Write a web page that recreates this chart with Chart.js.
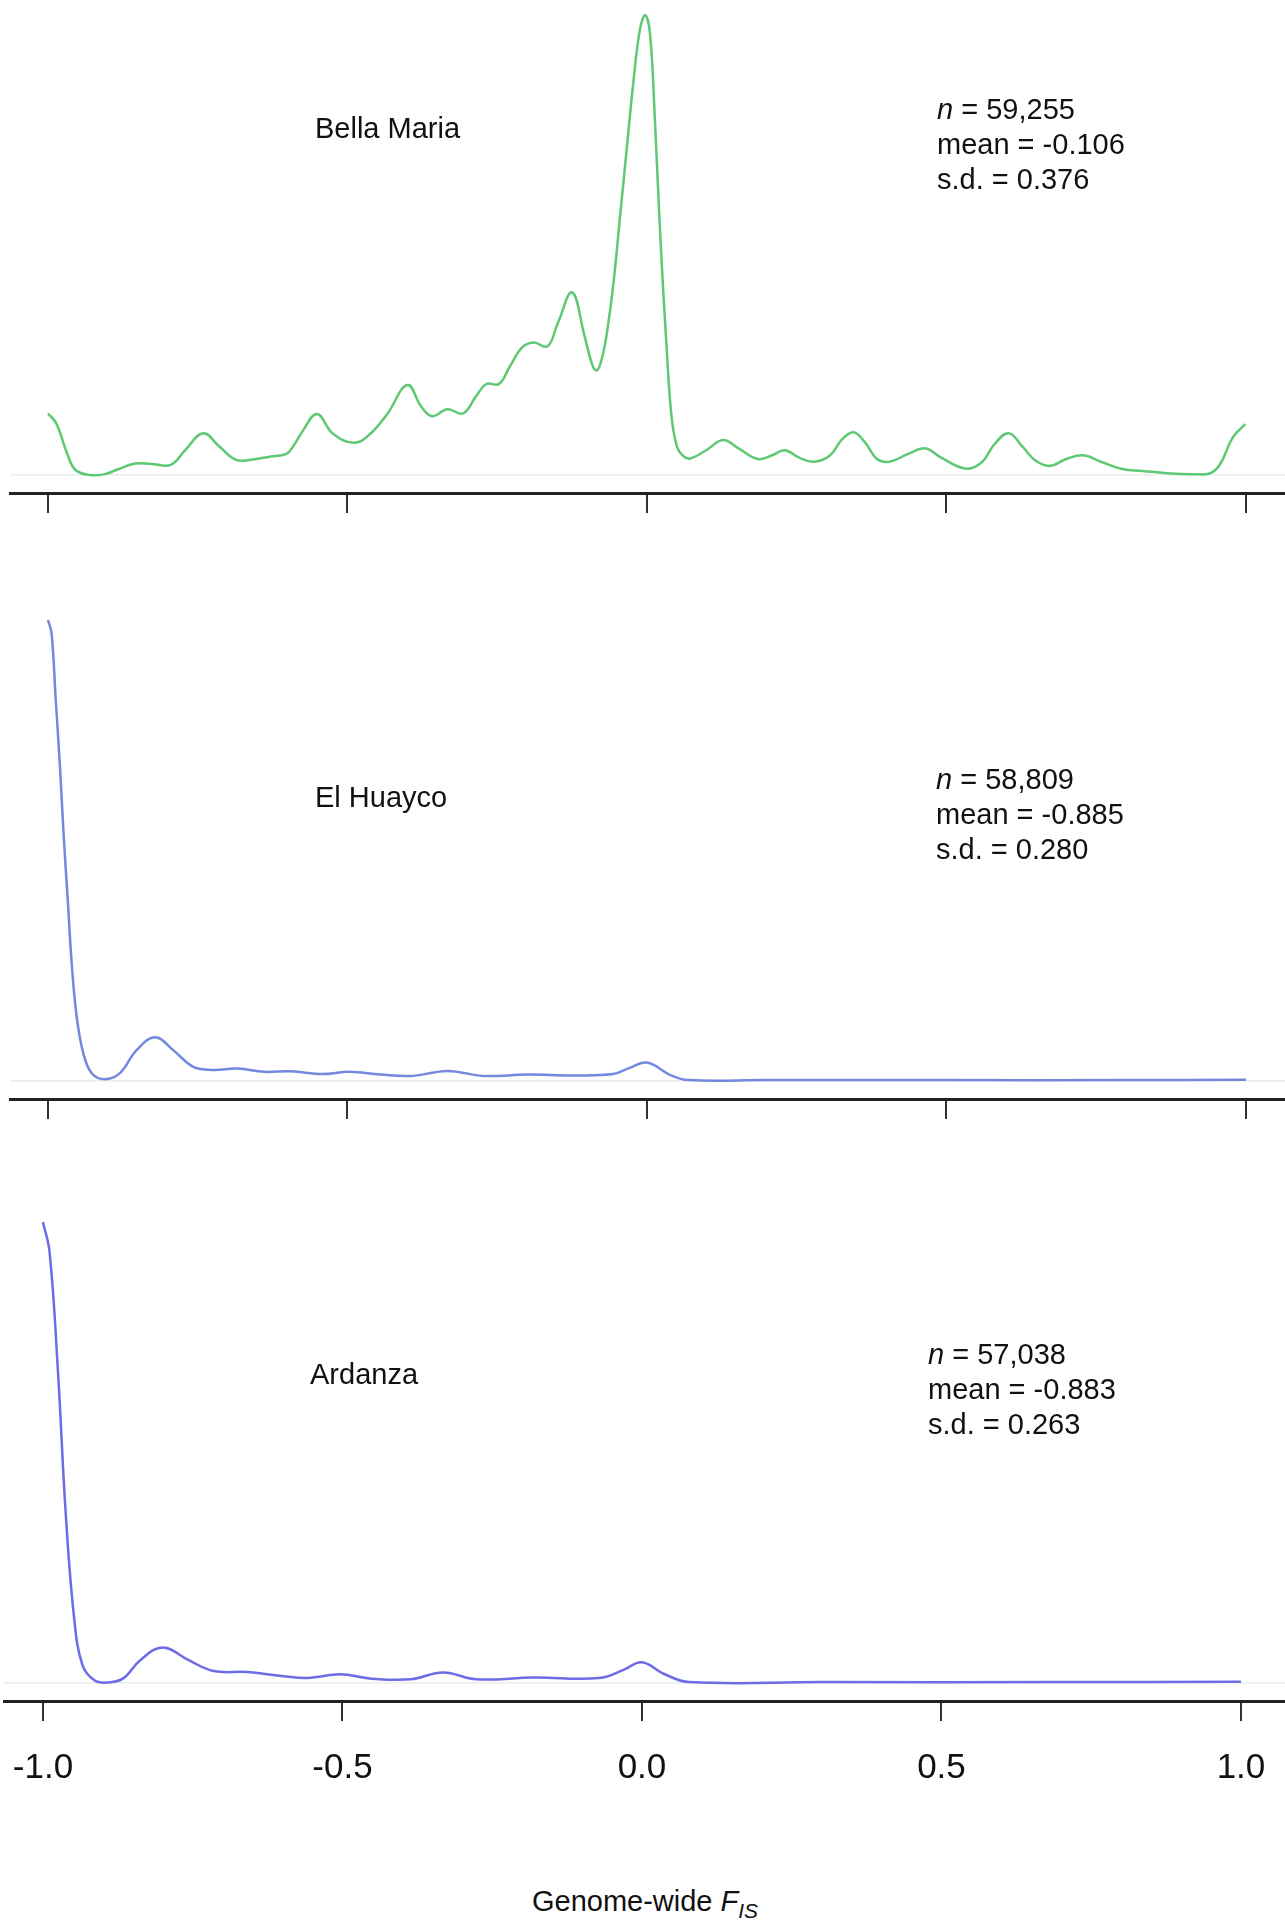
<!DOCTYPE html>
<html>
<head>
<meta charset="utf-8">
<script src="https://cdn.jsdelivr.net/npm/chart.js@4.4.1/dist/chart.umd.min.js"></script>
<style>
    body { margin: 0; width: 1285px; height: 1924px; background: #fff; position: relative; overflow: hidden;
           font-family: "Liberation Sans", Arial, Helvetica, sans-serif; color: #111; }
    canvas { position: absolute; left: 0; }
    .pop { position: absolute; font-size: 29px; line-height: 35px; white-space: nowrap; }
    .stats { position: absolute; font-size: 29px; line-height: 35px; white-space: nowrap; }
    .xtitle { position: absolute; left: 0; width: 1290px; top: 1884px; text-align: center; font-size: 29px; line-height: 34px; }
    .xtitle sub { font-size: 0.72em; vertical-align: -0.35em; }
</style>
</head>
<body>

<canvas id="bella-chart" width="1285" height="513" style="top:0px"></canvas>
<canvas id="huayco-chart" width="1285" height="599" style="top:520px"></canvas>
<canvas id="ardanza-chart" width="1285" height="661" style="top:1140px"></canvas>

<div class="pop" style="left:315px; top:111px">Bella Maria</div>
<div class="stats" style="left:937px; top:92px"><i>n</i> = 59,255<br>mean = -0.106<br>s.d. = 0.376</div>

<div class="pop" style="left:315px; top:780px">El Huayco</div>
<div class="stats" style="left:936px; top:762px"><i>n</i> = 58,809<br>mean = -0.885<br>s.d. = 0.280</div>

<div class="pop" style="left:310px; top:1357px">Ardanza</div>
<div class="stats" style="left:928px; top:1337px"><i>n</i> = 57,038<br>mean = -0.883<br>s.d. = 0.263</div>

<div class="xtitle">Genome-wide <i>F</i><sub><i>IS</i></sub></div>

<script>
// x axis ticks (genome-wide FIS)
const fisTicks = [-1.0, -0.5, 0.0, 0.5, 1.0];

// density curves, scaled so the highest point of each population is 1
const bellaX = [-1.000, -0.986, -0.968, -0.954, -0.930, -0.905, -0.884, -0.855, -0.827, -0.795,
    -0.771, -0.741, -0.714, -0.686, -0.658, -0.630, -0.602, -0.589, -0.577, -0.551,
    -0.525, -0.489, -0.461, -0.433, -0.400, -0.377, -0.359, -0.333, -0.307, -0.286,
    -0.268, -0.247, -0.229, -0.208, -0.189, -0.166, -0.149, -0.125, -0.104, -0.090,
    -0.083, -0.075, -0.067, -0.056, -0.045, -0.034, -0.023, -0.012, -0.003, 0.005,
    0.013, 0.022, 0.033, 0.041, 0.050, 0.060, 0.072, 0.100, 0.127, 0.154,
    0.185, 0.209, 0.230, 0.254, 0.278, 0.305, 0.326, 0.345, 0.364, 0.384,
    0.405, 0.436, 0.465, 0.491, 0.532, 0.559, 0.580, 0.604, 0.628, 0.649,
    0.673, 0.700, 0.728, 0.758, 0.793, 0.827, 0.868, 0.910, 0.940, 0.957,
    0.978, 0.999];
const bellaY = [0.134, 0.112, 0.047, 0.011, 0.000, 0.002, 0.012, 0.025, 0.024, 0.022,
    0.054, 0.091, 0.062, 0.033, 0.034, 0.040, 0.046, 0.066, 0.091, 0.133,
    0.091, 0.070, 0.091, 0.134, 0.196, 0.149, 0.128, 0.143, 0.134, 0.170,
    0.198, 0.198, 0.236, 0.278, 0.288, 0.280, 0.330, 0.397, 0.301, 0.235,
    0.228, 0.255, 0.308, 0.417, 0.562, 0.707, 0.851, 0.967, 1.000, 0.960,
    0.779, 0.525, 0.272, 0.127, 0.062, 0.042, 0.036, 0.055, 0.076, 0.057,
    0.035, 0.043, 0.054, 0.038, 0.029, 0.042, 0.078, 0.093, 0.071, 0.035,
    0.029, 0.046, 0.058, 0.038, 0.014, 0.028, 0.067, 0.091, 0.060, 0.031,
    0.020, 0.035, 0.043, 0.029, 0.013, 0.009, 0.004, 0.002, 0.004, 0.024,
    0.082, 0.111];

const huaycoX = [-1.000, -0.994, -0.987, -0.980, -0.974, -0.967, -0.960, -0.952, -0.941, -0.927,
    -0.905, -0.880, -0.852, -0.821, -0.791, -0.766, -0.750, -0.721, -0.683, -0.639,
    -0.594, -0.542, -0.497, -0.445, -0.393, -0.333, -0.273, -0.199, -0.124, -0.057,
    -0.030, 0.000, 0.039, 0.069, 0.200, 0.500, 0.800, 1.000];
const huaycoY = [1.000, 0.971, 0.826, 0.682, 0.537, 0.393, 0.248, 0.139, 0.060, 0.017,
    0.004, 0.017, 0.067, 0.095, 0.067, 0.038, 0.027, 0.024, 0.027, 0.020,
    0.021, 0.015, 0.020, 0.014, 0.011, 0.022, 0.011, 0.014, 0.012, 0.015,
    0.028, 0.040, 0.013, 0.002, 0.002, 0.002, 0.002, 0.003];

const ardanzaX = [-1.000, -0.989, -0.975, -0.962, -0.948, -0.934, -0.914, -0.893, -0.866, -0.838,
    -0.800, -0.756, -0.715, -0.660, -0.605, -0.558, -0.503, -0.455, -0.386, -0.332,
    -0.277, -0.181, -0.071, -0.030, 0.000, 0.038, 0.079, 0.300, 0.700, 1.000];
const ardanzaY = [1.000, 0.936, 0.678, 0.369, 0.142, 0.039, 0.006, 0.001, 0.010, 0.049,
    0.077, 0.049, 0.026, 0.024, 0.016, 0.011, 0.019, 0.010, 0.008, 0.023,
    0.008, 0.012, 0.011, 0.029, 0.045, 0.019, 0.002, 0.002, 0.002, 0.003];

let toPoints = function (xs, ys) {
    return xs.map(function (x, i) {
        return { x: x, y: ys[i] };
    });
};

let drawPanel = function (id, xs, ys, color, opts) {
    let ctx = document.getElementById(id).getContext('2d');

    return new Chart(ctx, {
        type: 'line',
        data: {
            datasets: [{
                data: toPoints(xs, ys),
                borderColor: color,
                borderWidth: 2.5,
                pointRadius: 0,
                fill: false,
                clip: false,
                tension: 0.4
            }]
        },
        options: {
            responsive: false,
            animation: false,
            events: [],
            layout: { padding: { left: opts.left, right: 0, top: 0, bottom: 0 } },
            plugins: {
                legend: { display: false },
                tooltip: { enabled: false }
            },
            scales: {
                x: {
                    type: 'linear',
                    min: opts.xMin,
                    max: opts.xMax,
                    afterBuildTicks: function (scale) {
                        scale.ticks = fisTicks.map(function (v) { return { value: v }; });
                    },
                    afterFit: function (scale) {
                        scale.height = opts.axisHeight;
                        // labels fit inside the canvas, no extra side padding
                        scale.paddingLeft = 0;
                        scale.paddingRight = 0;
                    },
                    border: { display: true, color: '#222', width: 3 },
                    grid: { drawOnChartArea: false, drawTicks: true, tickLength: 20, color: '#333', lineWidth: 2 },
                    ticks: {
                        display: opts.showLabels,
                        autoSkip: false,
                        maxRotation: 0,
                        padding: 26,
                        color: '#111',
                        font: { family: '"Liberation Sans", Arial, sans-serif', size: 35 },
                        callback: function (v) { return v.toFixed(1); }
                    }
                },
                y: {
                    min: opts.yMin,
                    max: opts.yMax,
                    afterBuildTicks: function (scale) { scale.ticks = [{ value: 0 }]; },
                    afterFit: function (scale) { scale.width = 0; },
                    border: { display: false },
                    grid: { drawTicks: false, color: '#ececec', lineWidth: 1.5 },
                    ticks: { display: false }
                }
            }
        }
    });
};

drawPanel('bella-chart', bellaX, bellaY, '#5ec872',
    { left: 10, xMin: -1.0634, xMax: 1.0651, yMin: -0.039, yMax: 1.033, axisHeight: 20, showLabels: false });
drawPanel('huayco-chart', huaycoX, huaycoY, '#7489de',
    { left: 10, xMin: -1.0634, xMax: 1.0651, yMin: -0.039, yMax: 1.217, axisHeight: 20, showLabels: false });
drawPanel('ardanza-chart', ardanzaX, ardanzaY, '#6c6ce6',
    { left: 4, xMin: -1.065, xMax: 1.0735, yMin: -0.039, yMax: 1.178, axisHeight: 100, showLabels: true });
</script>
</body>
</html>
